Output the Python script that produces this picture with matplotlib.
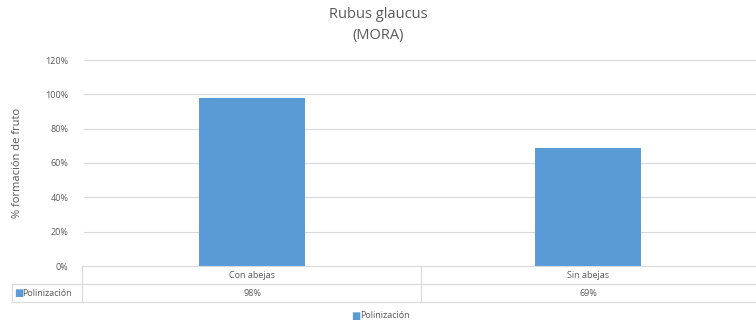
import matplotlib
matplotlib.use('Agg')
import matplotlib.pyplot as plt
from matplotlib.lines import Line2D
import matplotlib.transforms as mtransforms

# datos
categorias = ["Con abejas", "Sin abejas"]
polinizacion = [98, 69]
serie = "Polinización"
ticks_y = [0, 20, 40, 60, 80, 100, 120]

W, H = 756, 327
azul = "#5b9bd5"
gris_txt = "#595959"
gris_lin = "#d9d9d9"

plt.rcParams['font.family'] = ['Open Sans', 'DejaVu Sans']

fig = plt.figure(figsize=(W / 100, H / 100), dpi=100)
# area de trazado en pixeles: x 84..756, y 60..266
ax = fig.add_axes([84 / W, 1 - 266 / H, (756 - 84) / W, (266 - 60) / H])

x = list(range(len(categorias)))
ax.bar(x, polinizacion, width=0.315, color=azul, zorder=3)
ax.set_xlim(-0.5, len(categorias) - 0.5)
ax.set_ylim(0, 120)
ax.set_yticks(ticks_y)
ax.set_yticklabels([f"{t}%" for t in ticks_y], fontsize=6.5, color=gris_txt)
ax.set_xticks([])
ax.tick_params(axis='y', length=0, pad=11)
ax.grid(axis='y', color=gris_lin, linewidth=0.8, zorder=0)
for s in ax.spines.values():
    s.set_visible(False)

ax.set_ylabel("% formación de fruto", fontsize=8, color=gris_txt)
ax.yaxis.set_label_coords((23 - 84) / (756 - 84), 0.5)

fig.text(0.5, 1 - 15 / H, "Rubus glaucus", ha='center', va='center',
         fontsize=10.5, color=gris_txt)
fig.text(0.5, 1 - 36 / H, "(MORA)", ha='center', va='center',
         fontsize=10.5, color=gris_txt)

# tabla de datos bajo el grafico
def fy(py):
    return 1 - py / H

def fx(px):
    return px / W

lineas = [
    ((82, 756), (266, 266)),
    ((12, 756), (284, 284)),
    ((12, 756), (302, 302)),
    ((82, 82), (266, 302)),
    ((12, 12), (284, 302)),
    ((421, 421), (266, 302)),
]
for (x0, x1), (y0, y1) in lineas:
    fig.add_artist(Line2D([fx(x0), fx(x1)], [fy(y0), fy(y1)],
                          transform=fig.transFigure, color=gris_lin, linewidth=0.8))

trans = mtransforms.blended_transform_factory(ax.transData, fig.transFigure)
for xi, cat, val in zip(x, categorias, polinizacion):
    fig.text(xi, fy(275), cat, transform=trans, ha='center', va='center',
             fontsize=6.5, color=gris_txt)
    fig.text(xi, fy(293), f"{val}%", transform=trans, ha='center', va='center',
             fontsize=6.5, color=gris_txt)

fig.text(fx(14), fy(293), "■", ha='left', va='center', fontsize=7, color=azul,
         family=['DejaVu Sans'])
fig.text(fx(22), fy(293), serie, ha='left', va='center', fontsize=6.5, color=gris_txt)

# leyenda
fig.text(fx(351), fy(316), "■", ha='left', va='center', fontsize=7, color=azul,
         family=['DejaVu Sans'])
fig.text(fx(360), fy(316), serie, ha='left', va='center', fontsize=6.5, color=gris_txt)

fig.savefig("out.png", dpi=100)
